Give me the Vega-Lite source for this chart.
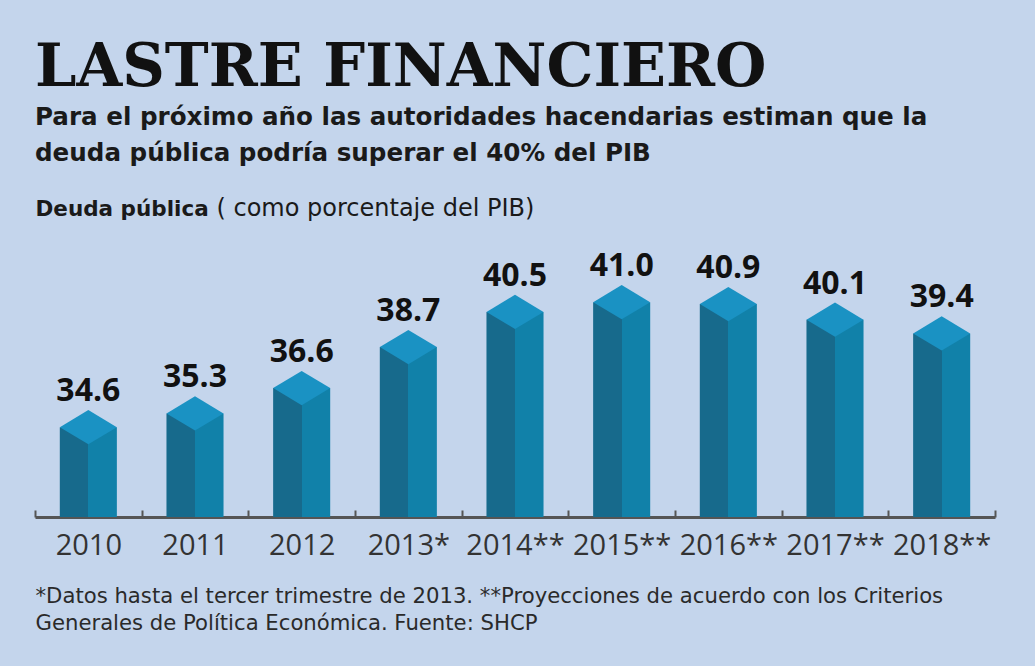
{
  "$schema": "https://vega.github.io/schema/vega-lite/v6.json",
  "autosize": {"type": "none"},
  "width": 960,
  "height": 293,
  "padding": {"left": 35, "top": 224, "right": 40, "bottom": 149},
  "background": "#c4d5ec",
  "config": {"view": {"stroke": null}},
  "title": {
    "text": "LASTRE FINANCIERO",
    "subtitle": ["Para el próximo año las autoridades hacendarias estiman que la", "deuda pública podría superar el 40% del PIB"],
    "anchor": "start",
    "frame": "group",
    "font": "DejaVu Serif",
    "fontSize": 59,
    "fontWeight": "bold",
    "color": "#111111",
    "subtitleFont": "DejaVu Sans",
    "subtitleFontSize": 24.6,
    "subtitleFontWeight": "bold",
    "subtitleColor": "#1a1a1a",
    "subtitleLineHeight": 36,
    "subtitlePadding": 8,
    "offset": 30
  },
  "data": {
    "values": [
      {"year": "2010", "deuda": 34.6},
      {"year": "2011", "deuda": 35.3},
      {"year": "2012", "deuda": 36.6},
      {"year": "2013*", "deuda": 38.7},
      {"year": "2014**", "deuda": 40.5},
      {"year": "2015**", "deuda": 41.0},
      {"year": "2016**", "deuda": 40.9},
      {"year": "2017**", "deuda": 40.1},
      {"year": "2018**", "deuda": 39.4}
    ]
  },
  "encoding": {
    "x": {
      "field": "year",
      "type": "nominal",
      "sort": null,
      "scale": {"paddingInner": 0, "paddingOuter": 0},
      "axis": {
        "title": ["*Datos hasta el tercer trimestre de 2013. **Proyecciones de acuerdo con los Criterios", "Generales de Política Económica. Fuente: SHCP"],
        "titleAnchor": "start",
        "titleAlign": "left",
        "titleFont": "DejaVu Sans",
        "titleFontSize": 21.2,
        "titleFontWeight": "normal",
        "titleColor": "#2a2a2a",
        "titleLineHeight": 27,
        "titlePadding": 25,
        "labelAngle": 0,
        "labelFont": "Open Sans",
        "labelFontSize": 29,
        "labelColor": "#333333",
        "labelPadding": 21,
        "domainColor": "#555555",
        "domainWidth": 3,
        "tickBand": "extent",
        "tickColor": "#555555",
        "tickWidth": 2,
        "tickSize": -7
      }
    }
  },
  "resolve": {"axis": {"y": "independent"}},
  "layer": [
    {
      "mark": {
        "type": "bar",
        "width": {"band": 0.535},
        "fill": {
          "gradient": "linear",
          "x1": 0, "x2": 1, "y1": 0, "y2": 0,
          "stops": [
            {"offset": 0, "color": "#176a8c"},
            {"offset": 0.5, "color": "#176a8c"},
            {"offset": 0.5, "color": "#1181a9"},
            {"offset": 1, "color": "#1181a9"}
          ]
        }
      },
      "encoding": {
        "y": {
          "field": "deuda",
          "type": "quantitative",
          "scale": {"domain": [30, 45], "zero": false, "nice": false},
          "axis": {
            "domain": false, "ticks": false, "labels": false, "grid": false,
            "title": "Deuda pública",
            "titleAngle": 0,
            "titleAlign": "left",
            "titleBaseline": "alphabetic",
            "titleX": 0,
            "titleY": -9,
            "titleFont": "DejaVu Sans",
            "titleFontSize": 21.5,
            "titleFontWeight": "bold",
            "titleColor": "#1a1a1a"
          }
        },
        "y2": {"datum": 30}
      }
    },
    {
      "mark": {"type": "point", "shape": "M0,-0.6L1,0L0,0.6L-1,0Z", "filled": true, "size": 3249, "color": "#1a92c3", "opacity": 1, "strokeWidth": 0},
      "encoding": {
        "y": {
          "field": "deuda",
          "type": "quantitative",
          "axis": {
            "orient": "right",
            "domain": false, "ticks": false, "labels": false, "grid": false,
            "title": "( como porcentaje del PIB)",
            "titleAngle": 0,
            "titleAlign": "left",
            "titleBaseline": "alphabetic",
            "titleX": -779,
            "titleY": -9,
            "titleFont": "DejaVu Sans",
            "titleFontSize": 24,
            "titleFontWeight": "normal",
            "titleColor": "#1a1a1a"
          }
        }
      }
    },
    {
      "mark": {"type": "text", "font": "Open Sans", "fontSize": 32, "fontWeight": "bold", "color": "#111111", "baseline": "alphabetic", "dy": -26},
      "encoding": {
        "y": {"field": "deuda", "type": "quantitative", "axis": null},
        "text": {"field": "deuda", "type": "quantitative", "format": ".1f"}
      }
    }
  ]
}
